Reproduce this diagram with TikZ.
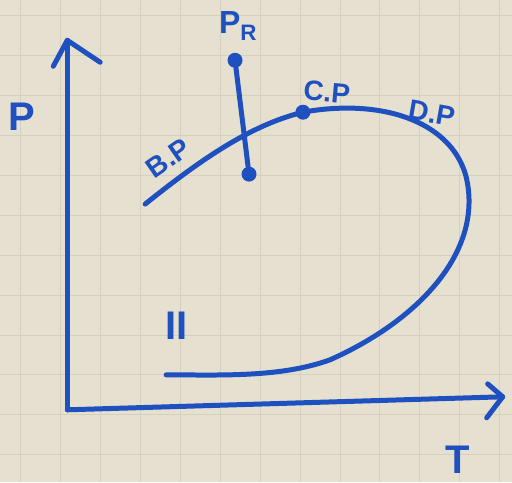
\documentclass[tikz,border=0pt]{standalone}
\usepackage{fontspec}
\setmainfont{Liberation Sans}
\definecolor{ink}{HTML}{1E50C0}
\definecolor{paper}{HTML}{E6E0D0}
\definecolor{gridc}{HTML}{D6D0C0}
\begin{document}
\begin{tikzpicture}[x=1pt,y=-1pt,
  pen/.style={draw=ink,line width=5pt,line cap=round,line join=round},
  lbl/.style={text=ink,font=\bfseries\fontsize{28}{30}\selectfont,inner sep=0pt},
  big/.style={text=ink,font=\bfseries\fontsize{40}{42}\selectfont,inner sep=0pt},
  dotnode/.style={circle,fill=ink,minimum size=15pt,inner sep=0pt}]
\fill[paper] (0,0) rectangle (512,482);
\foreach \gx in {20,60,...,500} \draw[gridc,line width=0.7pt] (\gx,0) -- (\gx,482);
\foreach \gy in {15,55,...,480} \draw[gridc,line width=0.7pt] (0,\gy) -- (512,\gy);
\useasboundingbox (0,0) rectangle (512,482);
% axes
\coordinate (O) at (67,410);
\coordinate (Ptop) at (67,40);
\coordinate (Tend) at (503,397);
\draw[pen] (O) -- (Ptop);
\draw[pen] (53,66) -- (Ptop) -- (100,62);
\draw[pen] (O) -- (Tend);
\draw[pen] (488,384) -- (Tend) -- (487,418);
% curve
\node[dotnode] (cp) at (303,112) {};
\draw[pen] (145,204) .. controls (200,160) and (250,125) .. (cp.center)
  .. controls (380,98) and (450,120) .. (466,175)
  .. controls (485,250) and (420,320) .. (330,360)
  .. controls (280,378) and (220,375) .. (166,375);
% P_R line
\node[dotnode] (ra) at (235,60) {};
\node[dotnode] (rb) at (249,174) {};
\draw[pen] (ra) -- (rb);
% labels
\node[big] (lp) at (22,117) {P};
\node[big] (lt) at (458,460) {T};
\node[lbl,font=\bfseries\fontsize{32}{34}\selectfont] (lpr) at (238,26) {P\textsubscript{R}};
\node[lbl,rotate=35] (lbp) at (168,158) {B.P};
\node[lbl,rotate=-5] (lcp) at (327,92) {C.P};
\node[lbl,rotate=-10] (ldp) at (432,113) {D.P};
\node[big] (lii) at (176,326) {II};
\end{tikzpicture}
\end{document}
